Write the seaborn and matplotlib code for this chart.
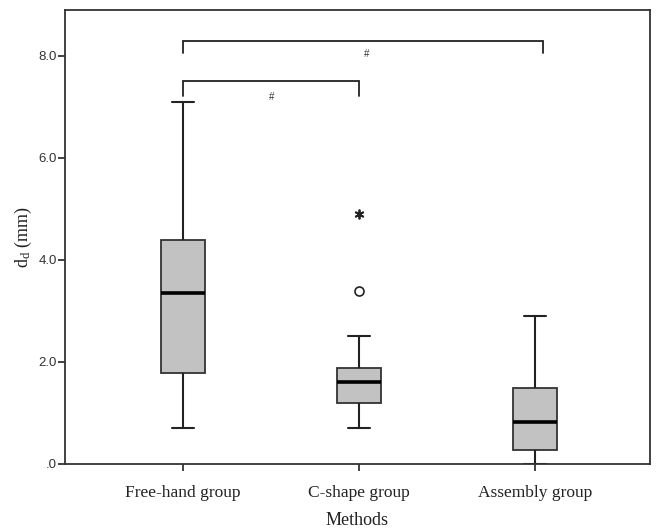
import numpy as np
import pandas as pd
import matplotlib
matplotlib.use("Agg")
import matplotlib.pyplot as plt
from matplotlib.ticker import FuncFormatter
import seaborn as sns

# ---- data (sample values chosen to reproduce the box statistics) ----
groups = ["Free-hand group", "C-shape group", "Assembly group"]
free_hand = [0.7, 1.78, 3.36, 4.39, 7.1]
c_shape = [0.7, 0.9, 1.1, 1.2, 1.3, 1.5, 1.6, 1.7, 1.8, 1.88, 2.5, 3.4, 4.9]
assembly = [0.0, 0.27, 0.83, 1.49, 2.9]
y_ticks = [0, 2, 4, 6, 8]

# significance brackets: (left group, right group, bracket height, drop)
brackets = [(0, 2, 8.3, 0.24), (0, 1, 7.5, 0.28)]
sig_labels = ["#", "#"]

values = free_hand + c_shape + assembly
labels = ([groups[0]] * len(free_hand) + [groups[1]] * len(c_shape)
          + [groups[2]] * len(assembly))
df = pd.DataFrame({"Methods": labels, "dd": values})

sns.set_theme(style="white")
plt.rcParams["font.family"] = ["Liberation Serif", "DejaVu Serif"]
plt.rcParams["mathtext.fontset"] = "custom"
plt.rcParams["mathtext.rm"] = "Liberation Serif"
plt.rcParams["mathtext.it"] = "Liberation Serif:italic"

fig = plt.figure(figsize=(6.56, 5.29), dpi=100)
ax = fig.add_axes([65 / 656, 1 - 464 / 529, (650 - 65) / 656, (464 - 10) / 529])

edge = "#333333"
sns.boxplot(data=df, x="Methods", y="dd", order=groups, ax=ax,
            color="#c2c2c2", saturation=1, width=0.25, linewidth=1.3,
            linecolor=edge, showfliers=False,
            medianprops=dict(color="black", linewidth=2.6),
            whiskerprops=dict(color="#222222", linewidth=1.5),
            capprops=dict(color="#222222", linewidth=1.5))

# outliers in SPSS style: circle for >1.5 IQR, star for >3 IQR
for i, vals in enumerate([free_hand, c_shape, assembly]):
    v = np.asarray(vals)
    q1, q3 = np.percentile(v, [25, 75])
    iqr = q3 - q1
    mild = v[((v > q3 + 1.5 * iqr) & (v <= q3 + 3 * iqr)) |
             ((v < q1 - 1.5 * iqr) & (v >= q1 - 3 * iqr))]
    extreme = v[(v > q3 + 3 * iqr) | (v < q1 - 3 * iqr)]
    ax.plot([i] * len(mild), mild, "o", mfc="white", mec="#222222",
            mew=1.2, ms=6.5, zorder=5)
    ax.plot([i] * len(extreme), extreme, marker=(6, 2, 0), ls="none",
            color="#222222", mew=1.3, ms=7, zorder=5)

# brackets
for (a, b, h, d), lab in zip(brackets, sig_labels):
    xb = b + (0.045 if b == 2 else 0)
    ax.plot([a, a, xb, xb], [h - d, h, h, h - d], color="#222222", lw=1.3,
            solid_joinstyle="miter")
    ax.text((a + xb) / 2 + (0.02 if b == 2 else 0.0), h - d - 0.02, lab,
            ha="center", va="center", fontsize=7,
            family=["Liberation Sans", "DejaVu Sans"], color="#333333")

ax.set_xlim(-0.67, 2.65)
ax.set_ylim(0, 8.9)
ax.set_yticks(y_ticks)
ax.yaxis.set_major_formatter(FuncFormatter(
    lambda v, p: (f"{v:.1f}")[1:] if v == 0 else f"{v:.1f}"))

for s in ax.spines.values():
    s.set_visible(True)
    s.set_color(edge)
    s.set_linewidth(1.3)

ax.tick_params(axis="both", which="major", direction="out", length=5,
               width=1.3, color=edge, bottom=True, left=True)
ax.tick_params(axis="y", labelsize=9.5, pad=1)
ax.tick_params(axis="x", labelsize=12.5, pad=10)
for t in ax.get_yticklabels():
    t.set_fontfamily(["Liberation Sans", "DejaVu Sans"])
    t.set_color("#333333")
for t in ax.get_xticklabels():
    t.set_color("#222222")

ax.set_xlabel("Methods", fontsize=13, labelpad=8, color="#222222")
ax.set_ylabel(r"d$_{\rm d}$ (mm)", fontsize=13, labelpad=3, color="#222222")

fig.savefig("out.png", dpi=100)
